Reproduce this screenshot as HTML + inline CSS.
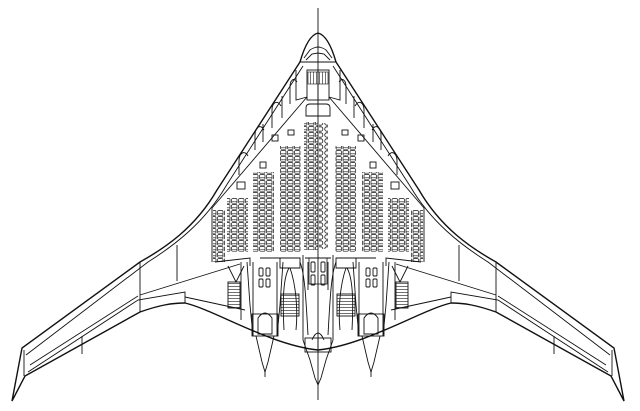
<!DOCTYPE html>
<html><head><meta charset="utf-8"><style>html,body{margin:0;padding:0;background:#fff}svg{display:block}</style></head>
<body>
<svg width="640" height="411" viewBox="0 0 640 411" xmlns="http://www.w3.org/2000/svg">
<defs>
<pattern id="seat" width="7" height="6" patternUnits="userSpaceOnUse">
<rect x="0.6" y="0.6" width="5.4" height="4.6" rx="1" fill="none" stroke="#111" stroke-width="0.7"/>
<line x1="0.6" y1="3.6" x2="6" y2="3.6" stroke="#111" stroke-width="0.5"/>
</pattern>
<pattern id="seat2" width="9" height="6" patternUnits="userSpaceOnUse">
<rect x="0.8" y="0.8" width="7" height="4.4" rx="2" fill="none" stroke="#111" stroke-width="0.8"/>
</pattern>
<pattern id="hatch" width="4" height="3" patternUnits="userSpaceOnUse">
<line x1="0" y1="1.5" x2="4" y2="1.5" stroke="#111" stroke-width="0.6"/>
</pattern>
<pattern id="vhatch" width="3" height="4" patternUnits="userSpaceOnUse">
<line x1="1.5" y1="0" x2="1.5" y2="4" stroke="#111" stroke-width="0.6"/>
</pattern>
<g id="half" fill="none" stroke="#111" stroke-width="0.9">
<path d="M318,33 C310,35 304,48 300,62 L217,190 C195,228 165,248 140,262 L22,348 L12,401 L25,376 L140,312 C160,305 172,303 185,303 C215,310 270,345 318,350" stroke-width="1.4"/>
<path d="M303,66 L226,186 C205,222 175,245 148,262 L26,355"/>
<line x1="24" y1="350" x2="24" y2="376"/>
<path d="M28,372 L138,300 L185,292 L185,303"/>
<path d="M30,365 L138,296"/>
<line x1="82" y1="336" x2="82" y2="354"/>
<line x1="140" y1="262" x2="140" y2="312"/>
<line x1="177" y1="245" x2="177" y2="281"/>
<path d="M140,295 L240,264"/>
<path d="M185,297 L245,310"/>
<path d="M307,97 L212,208 L212,262"/>
<path d="M296,70 L296,100 L307,97"/>
<!-- leading-edge compartments (inside) -->
<path d="M297,82 C294,77 290,80 290,87 L290,104"/>
<path d="M281,106 C277,99 272,103 272,110 L272,128"/>
<path d="M264,130 C260,123 255,128 255,135 L255,150"/>
<path d="M248,156 C244,149 239,154 239,161 L239,175"/>
<line x1="282" y1="96" x2="282" y2="118"/>
<line x1="263" y1="124" x2="263" y2="142"/>
<line x1="300" y1="62" x2="318" y2="62"/>
<path d="M304,58 L310,50 C314,47 318,47 318,47"/>
<path d="M306,60 L312,54 L318,53"/>
<rect x="307" y="70" width="11" height="30"/>
<rect x="308" y="72" width="10" height="12" fill="url(#vhatch)" stroke-width="0.6"/>
<path d="M318,104 L310,104 Q306,104 306,108 L306,116 L318,116"/>
<rect x="213" y="210" width="12" height="52" fill="url(#seat)" stroke="none"/>
<rect x="227" y="198" width="21" height="54" fill="url(#seat)" stroke="none"/>
<rect x="253" y="172" width="21" height="80" fill="url(#seat)" stroke="none"/>
<rect x="280" y="146" width="21" height="106" fill="url(#seat)" stroke="none"/>
<rect x="237" y="182" width="8" height="7"/>
<rect x="260" y="162" width="6" height="6"/>
<rect x="272" y="135" width="6" height="6"/>
<rect x="288" y="130" width="6" height="5"/>
<path d="M215,262 L250,258 L250,266 M260,258 L300,258 L300,268 L280,268 L280,258 M305,258 L318,258"/>
<rect x="228" y="282" width="12" height="26" fill="url(#hatch)"/>
<rect x="281" y="294" width="18" height="22" fill="url(#hatch)"/>
<path d="M228,266 L236,282 L244,266"/>
<path d="M253,262 L253,336 M277,262 L277,336"/>
<path d="M247,262 L250,305 L253,336"/>
<path d="M283,262 L280,305 L277,336"/>
<rect x="252" y="314" width="26" height="22"/>
<path d="M258,318 Q265,308 272,318 L272,334 L258,334 Z"/>
<path d="M256,336 L262,362 L265,372 L268,362 L274,336"/>
<line x1="265" y1="372" x2="265" y2="377"/>
<rect x="259" y="268" width="4" height="8" rx="1"/>
<rect x="266" y="268" width="4" height="8" rx="1"/>
<rect x="259" y="279" width="4" height="8" rx="1"/>
<rect x="266" y="279" width="4" height="8" rx="1"/>
<line x1="241" y1="262" x2="241" y2="320"/>
<path d="M289,268 C282,280 283,310 284,330"/>
<path d="M290,268 C296,285 298,310 296,330"/>
<path d="M300,262 C305,275 306,300 308,335"/>
<path d="M303,255 L303,340 M308,262 L308,290"/>
<path d="M303,340 L310,360 L315,378 L318,385"/>
<rect x="305" y="338" width="13" height="14"/>
<path d="M312,340 Q315,333 318,333"/>
<rect x="311" y="262" width="4" height="10" rx="1"/>
<rect x="311" y="275" width="4" height="10" rx="1"/>
</g>
</defs>
<use href="#half"/>
<use href="#half" transform="translate(636,0) scale(-1,1)"/>
<rect x="304" y="122" width="14" height="128" fill="url(#seat)"/>
<rect x="319" y="123" width="9" height="126" fill="url(#seat2)"/>
<rect x="309" y="258" width="18" height="26" fill="none" stroke="#111" stroke-width="0.8"/>
<line x1="318" y1="8" x2="318" y2="400" stroke="#111" stroke-width="0.9"/>
</svg>
</body></html>
